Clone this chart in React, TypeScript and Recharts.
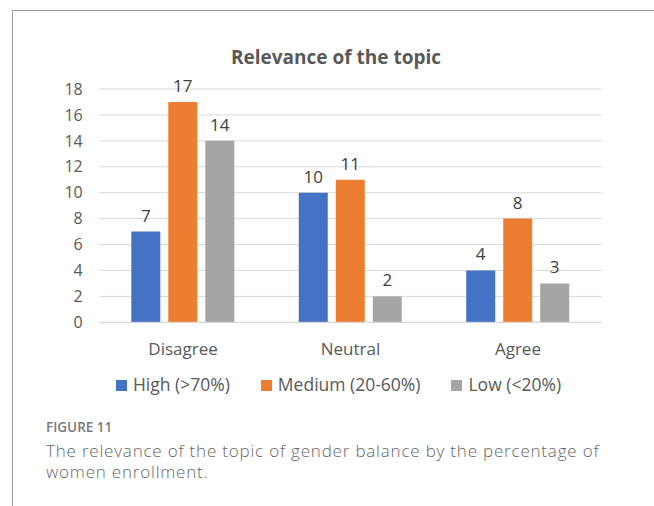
import React from "react";
import { BarChart, Bar, XAxis, YAxis, CartesianGrid, Legend, LabelList } from "recharts";

const categories = ["Disagree", "Neutral", "Agree"];
const seriesNames = ["High (>70%)", "Medium (20-60%)", "Low (<20%)"];
const highValues = [7, 10, 4];
const mediumValues = [17, 11, 8];
const lowValues = [14, 2, 3];
const yTicks = [0, 2, 4, 6, 8, 10, 12, 14, 16, 18];

const COLORS = { high: "#4472C4", medium: "#ED7D31", low: "#A5A5A5" };
const FONT = "'Open Sans', sans-serif";

const data = categories.map((name, i) => ({
  name,
  high: highValues[i],
  medium: mediumValues[i],
  low: lowValues[i],
}));

// square swatches with wide gaps, like the Office legend; keep series order
const renderLegend = (props: any) => {
  const payload = [...(props.payload || [])].sort(
    (a: any, b: any) => seriesNames.indexOf(a.value) - seriesNames.indexOf(b.value)
  );
  return (
    <div style={{ display: "flex", justifyContent: "center", alignItems: "center", fontSize: 17.5, lineHeight: "20px", color: "#595959" }}>
      {payload.map((p: any, i: number) => (
        <span key={p.value} style={{ display: "flex", alignItems: "center", marginLeft: i ? 31 : 0 }}>
          <span style={{ width: 11, height: 11, background: p.color, marginRight: 6, marginTop: 2 }} />
          <span>{p.value}</span>
        </span>
      ))}
    </div>
  );
};

export default function App() {
  return (
    <div style={{ position: "absolute", left: 0, top: 0, width: 654, height: 506, background: "#fff", fontFamily: FONT }}>
      <svg width={654} height={506} style={{ position: "absolute", left: 0, top: 0 }}>
        <line x1={12.5} y1={10.5} x2={654} y2={10.5} stroke="#9a9a9a" strokeWidth={1} />
        <line x1={12.5} y1={10.5} x2={12.5} y2={506} stroke="#9a9a9a" strokeWidth={1} />
        <text x={336} y={64.3} textAnchor="middle" fontSize={19} fontWeight={700} fill="#595959">
          Relevance of the topic
        </text>
        <text x={46} y={432} fontSize={13.5} fontWeight={600} fill="#7a7a7a">
          FIGURE 11
        </text>
        <text x={46} y={456.7} fontSize={17} fontWeight={300} letterSpacing={0.8} fill="#666">
          The relevance of the topic of gender balance by the percentage of
        </text>
        <text x={46} y={478.3} fontSize={17} fontWeight={300} letterSpacing={0.8} fill="#666">
          women enrollment.
        </text>
      </svg>
      <div style={{ position: "absolute", left: 0, top: 0 }}>
        <BarChart
          width={654}
          height={420}
          data={data}
          margin={{ top: 89, right: 52.3, left: 39.3, bottom: 67.7 }}
          barCategoryGap={32}
          barGap={8}
        >
          <CartesianGrid vertical={false} stroke="#D9D9D9" />
          <XAxis
            dataKey="name"
            tickLine={false}
            tickSize={0}
            tickMargin={20.7}
            axisLine={{ stroke: "#D9D9D9" }}
            tick={{ fill: "#595959", fontSize: 17 }}
          />
          <YAxis
            width={60}
            domain={[0, 18]}
            ticks={yTicks}
            axisLine={false}
            tickLine={false}
            tickSize={0}
            tickMargin={16.6}
            tick={{ fill: "#595959", fontSize: 16 }}
          />
          <Legend
            verticalAlign="middle"
            align="center"
            layout="horizontal"
            content={renderLegend}
            wrapperStyle={{ top: 374.4, left: 11.5, width: 654 }}
          />
          <Bar dataKey="high" name={seriesNames[0]} fill={COLORS.high} isAnimationActive={false}>
            <LabelList dataKey="high" position="top" offset={10} fill="#404040" fontSize={17} />
          </Bar>
          <Bar dataKey="medium" name={seriesNames[1]} fill={COLORS.medium} isAnimationActive={false}>
            <LabelList dataKey="medium" position="top" offset={10} fill="#404040" fontSize={17} />
          </Bar>
          <Bar dataKey="low" name={seriesNames[2]} fill={COLORS.low} isAnimationActive={false}>
            <LabelList dataKey="low" position="top" offset={10} fill="#404040" fontSize={17} />
          </Bar>
        </BarChart>
      </div>
    </div>
  );
}
